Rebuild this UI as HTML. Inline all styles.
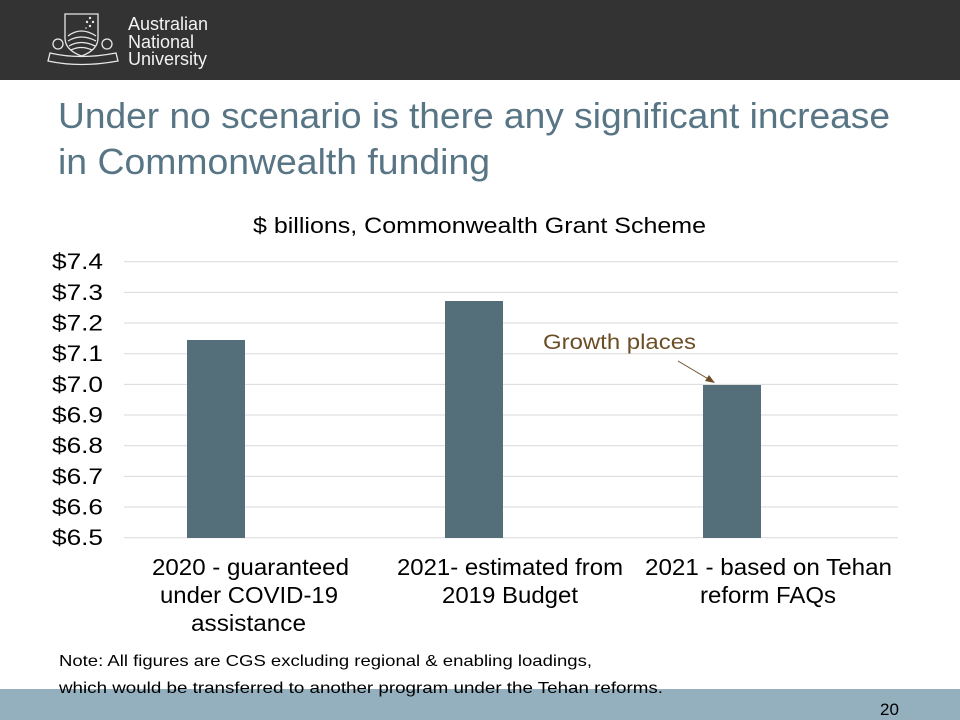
<!DOCTYPE html>
<html><head><meta charset="utf-8"><style>
html,body{margin:0;padding:0;background:#fff}
body{width:960px;height:720px;position:relative;overflow:hidden;font-family:"Liberation Sans",sans-serif}
</style></head><body>
<svg width="960" height="720" xmlns="http://www.w3.org/2000/svg" style="position:absolute;left:0;top:0;font-family:'Liberation Sans',sans-serif">
<rect x="0" y="0" width="960" height="80" fill="#333333"/>
<g fill="none" stroke="#e8e8e8" stroke-width="1.3">
<path d="M65 14 H98 V38 Q98 50 81.5 56 Q65 50 65 38 Z"/>
<path d="M68 36 Q81 26 96 36 M68 41 Q81 33 96 41 M69 46 Q81 39 95 46 M71 50 Q81 45 92 50"/>
<path d="M50 53 Q80 60 116 53 L118 61 Q80 68 48 61 Z"/>
<circle cx="58" cy="44" r="5"/><circle cx="107" cy="44" r="5"/>
</g>
<g fill="#e8e8e8"><circle cx="90" cy="18" r="1.2"/><circle cx="87" cy="22" r="1.2"/><circle cx="93" cy="22" r="1.2"/><circle cx="90" cy="26" r="1.2"/><circle cx="86" cy="28" r="0.8"/></g>
<g fill="#f2f2f2" font-size="18"><text x="128" y="30">Australian</text><text x="128" y="48">National</text><text x="128" y="65">University</text></g>
<g fill="#577584" font-size="36"><text x="58" y="128" textLength="832" lengthAdjust="spacingAndGlyphs">Under no scenario is there any significant increase</text><text x="58" y="174" textLength="432" lengthAdjust="spacingAndGlyphs">in Commonwealth funding</text></g>
<text x="253" y="233" font-size="22" textLength="453" lengthAdjust="spacingAndGlyphs" fill="#000">$ billions, Commonwealth Grant Scheme</text>
<g stroke="#d9d9d9" stroke-width="1">
<line x1="124" x2="898" y1="261.7" y2="261.7"/><line x1="124" x2="898" y1="292.4" y2="292.4"/><line x1="124" x2="898" y1="323" y2="323"/><line x1="124" x2="898" y1="353.7" y2="353.7"/><line x1="124" x2="898" y1="384.4" y2="384.4"/><line x1="124" x2="898" y1="415" y2="415"/><line x1="124" x2="898" y1="445.7" y2="445.7"/><line x1="124" x2="898" y1="476.4" y2="476.4"/><line x1="124" x2="898" y1="507" y2="507"/><line x1="124" x2="898" y1="537.7" y2="537.7"/>
</g>
<g font-size="22" fill="#000">
<text x="52" y="269" textLength="51" lengthAdjust="spacingAndGlyphs">$7.4</text><text x="52" y="300" textLength="51" lengthAdjust="spacingAndGlyphs">$7.3</text><text x="52" y="330.5" textLength="51" lengthAdjust="spacingAndGlyphs">$7.2</text><text x="52" y="361" textLength="51" lengthAdjust="spacingAndGlyphs">$7.1</text><text x="52" y="392" textLength="51" lengthAdjust="spacingAndGlyphs">$7.0</text><text x="52" y="422.5" textLength="51" lengthAdjust="spacingAndGlyphs">$6.9</text><text x="52" y="453" textLength="51" lengthAdjust="spacingAndGlyphs">$6.8</text><text x="52" y="484" textLength="51" lengthAdjust="spacingAndGlyphs">$6.7</text><text x="52" y="514.5" textLength="51" lengthAdjust="spacingAndGlyphs">$6.6</text><text x="52" y="545" textLength="51" lengthAdjust="spacingAndGlyphs">$6.5</text>
</g>
<g fill="#546e7a">
<rect x="187" y="340" width="58" height="198"/>
<rect x="445" y="301" width="58" height="237"/>
<rect x="703" y="385" width="58" height="153"/>
</g>
<text x="543" y="349" font-size="21" textLength="153" lengthAdjust="spacingAndGlyphs" fill="#6b4e25">Growth places</text>
<line x1="678" y1="361" x2="710" y2="380" stroke="#6b4e25" stroke-width="1"/>
<polygon points="715,383 705,381 709,375" fill="#6b4e25"/>
<g font-size="23" fill="#000">
<text x="152" y="575" textLength="197" lengthAdjust="spacingAndGlyphs">2020 - guaranteed</text><text x="160" y="603" textLength="178" lengthAdjust="spacingAndGlyphs">under COVID-19</text><text x="191" y="631" textLength="115" lengthAdjust="spacingAndGlyphs">assistance</text>
<text x="397" y="575" textLength="226" lengthAdjust="spacingAndGlyphs">2021- estimated from</text><text x="442" y="603" textLength="136" lengthAdjust="spacingAndGlyphs">2019 Budget</text>
<text x="645" y="575" textLength="247" lengthAdjust="spacingAndGlyphs">2021 - based on Tehan</text><text x="700" y="603" textLength="136" lengthAdjust="spacingAndGlyphs">reform FAQs</text>
</g>
<rect x="0" y="689" width="960" height="31" fill="#94afbe"/>
<g font-size="16" fill="#000"><text x="59" y="666" textLength="533" lengthAdjust="spacingAndGlyphs">Note: All figures are CGS excluding regional &amp; enabling loadings,</text><text x="59" y="693" textLength="604" lengthAdjust="spacingAndGlyphs">which would be transferred to another program under the Tehan reforms.</text></g>
<text x="880" y="715" font-size="17" fill="#000">20</text>
</svg>
</body></html>
